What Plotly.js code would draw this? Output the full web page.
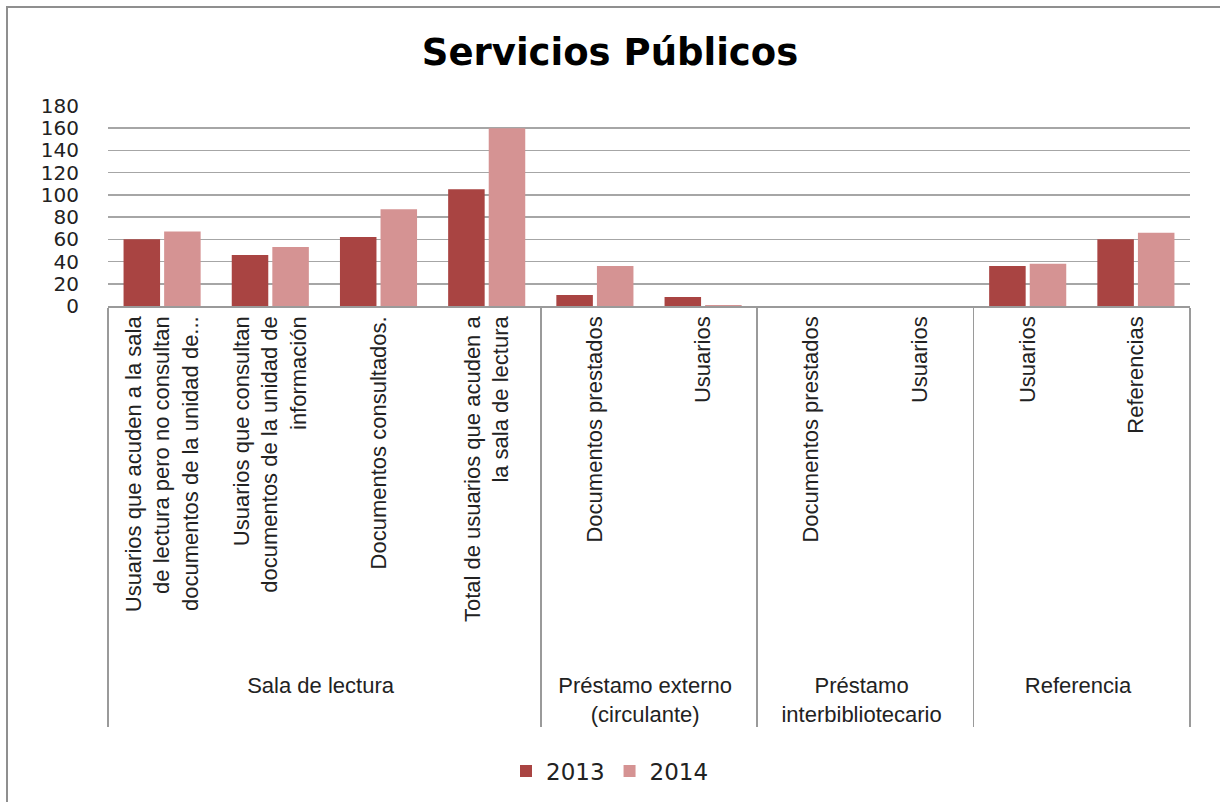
<!DOCTYPE html>
<html>
<head>
<meta charset="utf-8">
<script src="https://cdn.plot.ly/plotly-3.0.1.min.js"></script>
<style>
  html, body { margin: 0; padding: 0; background: #fff; }
  #wrap { position: relative; width: 1220px; height: 802px; overflow: hidden; }
  #chart { position: absolute; left: 0; top: 0; width: 1220px; height: 802px; }
  #frame { position: absolute; left: 6px; top: 6px; width: 1300px; height: 900px;
           border-left: 2px solid #8f8f8f; border-top: 2px solid #8f8f8f; pointer-events: none; }
</style>
</head>
<body>
<div id="wrap">
  <div id="chart"></div>
  <div id="frame"></div>
</div>
<script>
// Group (outer) labels
const groups = [
  "Sala de lectura", "Sala de lectura", "Sala de lectura", "Sala de lectura",
  "Préstamo externo<br>(circulante)", "Préstamo externo<br>(circulante)",
  "Préstamo<br>interbibliotecario", "Préstamo<br>interbibliotecario",
  "Referencia", "Referencia"
];
// Inner category labels
const categories = [
  "Usuarios que acuden a la sala<br>de lectura pero no consultan<br>documentos de la unidad de...",
  "Usuarios que consultan<br>documentos de la unidad de<br>información",
  "Documentos consultados.",
  "Total de usuarios que acuden a<br>la sala de lectura",
  "Documentos prestados",
  "Usuarios",
  "Documentos prestados",
  "Usuarios",
  "Usuarios",
  "Referencias"
];
const values2013 = [60, 46, 62, 105, 10, 8, 0, 0, 36, 60];
const values2014 = [67, 53, 87, 160, 36, 1, 0, 0, 38, 66];
const seriesNames = ["2013", "2014"];
const yTicks = [0, 20, 40, 60, 80, 100, 120, 140, 160, 180];

// group labels get a leading blank line so they sit lower, as in the reference
const groupLabels = groups.map(g => "<br>" + g);

const traces = [
  { type: "bar", name: seriesNames[0], x: [groupLabels, categories], y: values2013,
    marker: { color: "#A94442" } },
  { type: "bar", name: seriesNames[1], x: [groupLabels, categories], y: values2014,
    marker: { color: "#D59393" } }
];

const layout = {
  width: 1220, height: 802,
  paper_bgcolor: "#ffffff", plot_bgcolor: "#ffffff",
  margin: { l: 108, r: 30, t: 106, b: 496 },
  barmode: "group", bargap: 0.25, bargroupgap: 0.1,
  title: {
    text: "<b>Servicios Públicos</b>",
    font: { family: "DejaVu Sans", size: 37, color: "#000" },
    x: 0.5, xanchor: "center", y: 1 - 52 / 802, yanchor: "middle", yref: "container"
  },
  xaxis: {
    type: "multicategory",
    tickangle: -90,
    tickfont: { family: "Liberation Sans", size: 22, color: "#222" },
    showline: true, linecolor: "#9a9a9a", linewidth: 1.5,
    showdividers: true, dividercolor: "#9a9a9a", dividerwidth: 1.5,
    ticks: "outside", ticklen: 8, tickcolor: "rgba(0,0,0,0)",
    showgrid: false, zeroline: false, fixedrange: true
  },
  yaxis: {
    range: [0, 180], tickvals: yTicks, ticktext: yTicks.map(String),
    showgrid: true, gridcolor: "#a6a6a6", gridwidth: 1.5,
    zeroline: false, showline: false,
    ticks: "outside", ticklen: 24, tickcolor: "rgba(0,0,0,0)",
    tickfont: { family: "DejaVu Sans", size: 20, color: "#222" },
    fixedrange: true
  },
  showlegend: true,
  legend: {
    orientation: "h", x: 0.5, xanchor: "center", xref: "container",
    y: 1 - 771 / 802, yanchor: "middle", yref: "container",
    font: { family: "DejaVu Sans", size: 23, color: "#222" },
    itemwidth: 30, traceorder: "normal"
  }
};

Plotly.newPlot("chart", traces, layout, { staticPlot: true, displayModeBar: false });
</script>
</body>
</html>
